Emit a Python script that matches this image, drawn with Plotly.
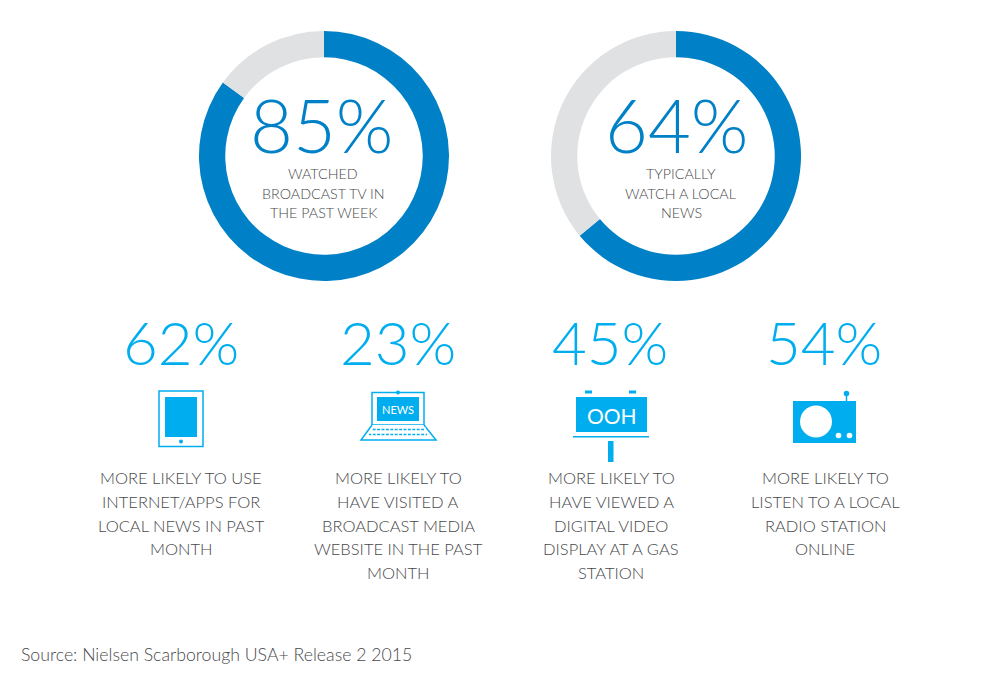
import plotly.graph_objects as go

# Data
donut_values = [85, 64]
donut_labels = ["85%", "64%"]
donut_captions = [["WATCHED", "BROADCAST TV IN", "THE PAST WEEK"], ["TYPICALLY", "WATCH A LOCAL", "NEWS"]]
stat_labels = ["62%", "23%", "45%", "54%"]
stat_captions = [
    ["MORE LIKELY TO USE", "INTERNET/APPS FOR", "LOCAL NEWS IN PAST", "MONTH"],
    ["MORE LIKELY TO", "HAVE VISITED A", "BROADCAST MEDIA", "WEBSITE IN THE PAST", "MONTH"],
    ["MORE LIKELY TO", "HAVE VIEWED A", "DIGITAL VIDEO", "DISPLAY AT A GAS", "STATION"],
    ["MORE LIKELY TO", "LISTEN TO A LOCAL", "RADIO STATION", "ONLINE"],
]
source_text = "Source: Nielsen Scarborough USA+ Release 2 2015"

BLUE = "#0080C6"
GREY = "#E0E1E3"
CYAN = "#00AEEF"
TEXT = "#48494B"
FONT = "Lato"

W, H = 1000, 675
fig = go.Figure()

# Donuts
donut_cx = [324, 676]
for val, cx in zip(donut_values, donut_cx):
    fig.add_trace(go.Pie(
        values=[val, 100 - val], hole=0.79, sort=False, direction="clockwise", rotation=0,
        marker=dict(colors=[BLUE, GREY], line=dict(width=0)),
        textinfo="none", hoverinfo="skip", showlegend=False,
        domain=dict(x=[(cx - 125) / W, (cx + 125) / W], y=[1 - 281 / H, 1 - 31 / H]),
    ))

# Invisible pixel-space axes for decorative icons
fig.add_trace(go.Scatter(x=[0], y=[0], mode="markers", marker=dict(opacity=0), hoverinfo="skip", showlegend=False))

def text(x, y, s, size, color=TEXT, anchor="center", weight=300, height=None):
    fig.add_annotation(x=x, y=y, xref="x", yref="y", text=s, showarrow=False, xanchor=anchor, yanchor="middle",
                       align="left" if anchor == "left" else "center", height=height,
                       font=dict(family=FONT, size=size, color=color, weight=weight))

def rect(x0, y0, x1, y1, fill=CYAN, line=None, lw=0):
    fig.add_shape(type="rect", x0=x0, y0=y0, x1=x1, y1=y1, fillcolor=fill, layer="above",
                  line=dict(color=line or fill, width=lw))

def circle(cx, cy, r, fill=CYAN):
    fig.add_shape(type="circle", x0=cx - r, y0=cy - r, x1=cx + r, y1=cy + r, fillcolor=fill, layer="above",
                  line=dict(width=0))

def line(x0, y0, x1, y1, w=1.5):
    fig.add_shape(type="line", x0=x0, y0=y0, x1=x1, y1=y1, layer="above", line=dict(color=CYAN, width=w))

# Donut text
text(322, 124, donut_labels[0], 74, color=BLUE, height=70)
text(677, 124, donut_labels[1], 74, color=BLUE, height=70)
for cx, cap in zip([323, 681], donut_captions):
    for i, s in enumerate(cap):
        text(cx, 173.5 + i * 19.5, s, 14.3)

# Stats text
for cx, lab in zip([181, 398, 610, 824], stat_labels):
    text(cx, 342, lab, 60, color=CYAN)
for cx, cap in zip([181, 398, 611, 825], stat_captions):
    for i, s in enumerate(cap):
        text(cx, 478 + i * 23.75, s, 16.5)

text(18.5, 654.5, source_text, 17.7, anchor="left")

# Tablet
rect(159, 391, 203, 446.5, fill="white", line=CYAN, lw=1.5)
rect(165, 397, 197, 437)
circle(181, 441.5, 2)

# Laptop
rect(372, 392.5, 424, 425, fill="white", line=CYAN, lw=1.5)
rect(377, 397, 419, 421)
circle(398, 392.5, 2)
text(398, 409, "NEWS", 11, color="white", weight=400)
fig.add_shape(type="path", path="M 372 425 L 361 440 L 436 440 L 424 425", layer="above",
              fillcolor="white", line=dict(color=CYAN, width=1.5))
for yy in (429.5, 434.5):
    line(372 if yy < 430 else 369, yy, 424 if yy < 430 else 427, yy, 1.5)
for i in range(13):
    fig.add_shape(type="line", x0=372 + i * 4.4, x1=372 + i * 4.4, y0=427, y1=437, layer="above",
                  line=dict(color="white", width=1.5))

# Billboard
rect(576, 397, 647, 432)
rect(585, 390.5, 592, 393.5)
rect(629, 390.5, 636, 393.5)
rect(573, 436, 649, 437.5)
rect(608, 441, 613.5, 462)
text(612, 415, "OOH", 21, color="white", weight=400)

# Radio
rect(793, 401, 856, 443)
line(846.5, 394, 846.5, 401, 1.5)
circle(846.5, 393.5, 2.8)
circle(816, 421.5, 16, fill="white")
circle(838.5, 435.5, 2.8, fill="white")
circle(849.5, 435.5, 2.8, fill="white")

fig.update_layout(
    width=W, height=H, margin=dict(l=0, r=0, t=0, b=0),
    paper_bgcolor="white", plot_bgcolor="rgba(0,0,0,0)", showlegend=False,
    xaxis=dict(range=[0, W], visible=False, fixedrange=True),
    yaxis=dict(range=[H, 0], visible=False, fixedrange=True),
)
fig.write_html("out.html", config=dict(displayModeBar=False),
               post_script="document.body.style.margin='0';document.body.style.overflow='hidden';")
